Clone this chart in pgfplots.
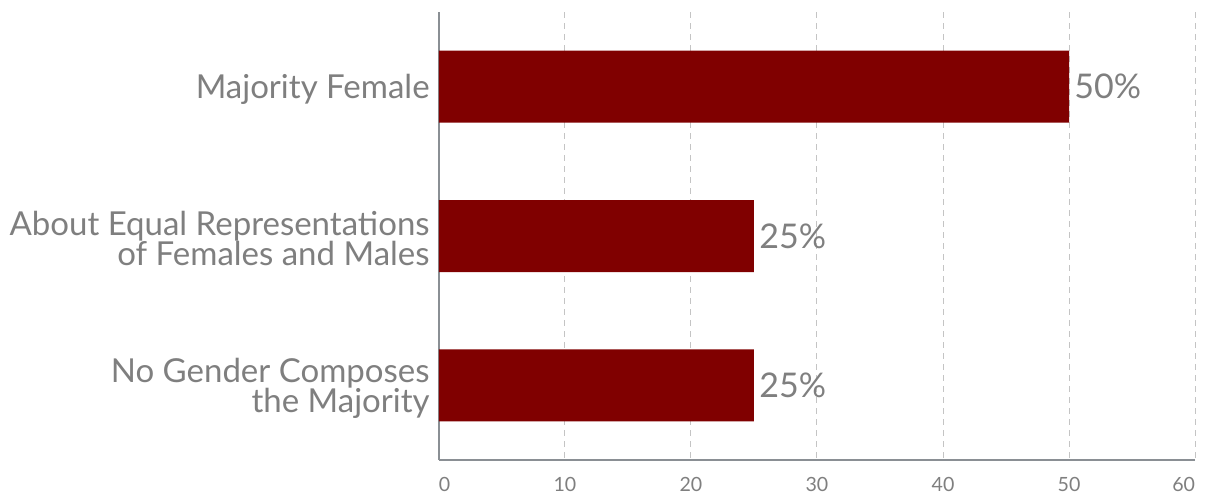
\documentclass[border=0pt]{standalone}
\usepackage{pgfplots}
\pgfplotsset{compat=1.18}
\usetikzlibrary{calc}
\usepackage{fontspec}
\setmainfont{Lato}
\definecolor{barred}{HTML}{800000}
\definecolor{txtgray}{HTML}{7F7F7F}
\definecolor{axgray}{HTML}{8A8F94}
\definecolor{gridgray}{HTML}{C4C4C4}
\begin{document}
\begin{tikzpicture}
\begin{axis}[
  xbar, scale only axis, width=378pt, height=224pt,
  xmin=0, xmax=60, ymin=-0.5, ymax=2.5, y dir=reverse,
  enlargelimits=false,
  bar width=36pt,
  ytick={0,1,2},
  yticklabels={\raisebox{-2.5pt}{Majority Female}, {About Equal Representations\\of Females and Males}, {No Gender Composes\\the Majority}},
  yticklabel style={align=right, font=\fontsize{16.5}{15}\selectfont, text=txtgray, inner sep=0pt, xshift=-4.5pt, yshift=-1.3pt},
  xtick={0,10,...,60},
  xticklabels={\rlap{0},10,20,30,40,50,\llap{60}},
  xticklabel style={font=\fontsize{9.8}{10}\selectfont, text=txtgray, inner sep=0pt, yshift=-8.2pt},
  /pgf/number format/assume math mode=true,
  axis x line*=bottom, axis y line*=left,
  xmajorgrids, grid style={gridgray, line width=0.5pt, dash pattern=on 3pt off 2.5pt},
  axis line style={axgray, line width=1pt},
  major tick length=0pt,
  nodes near coords={\pgfmathprintnumber{\pgfplotspointmeta}\%},
  nodes near coords style={font=\fontsize{17}{18}\selectfont, text=txtgray, anchor=west, inner sep=2.5pt},
]
\addplot[fill=barred, draw=none] coordinates {(50,0) (25,1) (25,2)};
\end{axis}
\pgfresetboundingbox
\path ($(current axis.south west)+(-219.5pt,-16.5pt)$) rectangle ($(current axis.north east)+(6pt,6pt)$);
\end{tikzpicture}
\end{document}
